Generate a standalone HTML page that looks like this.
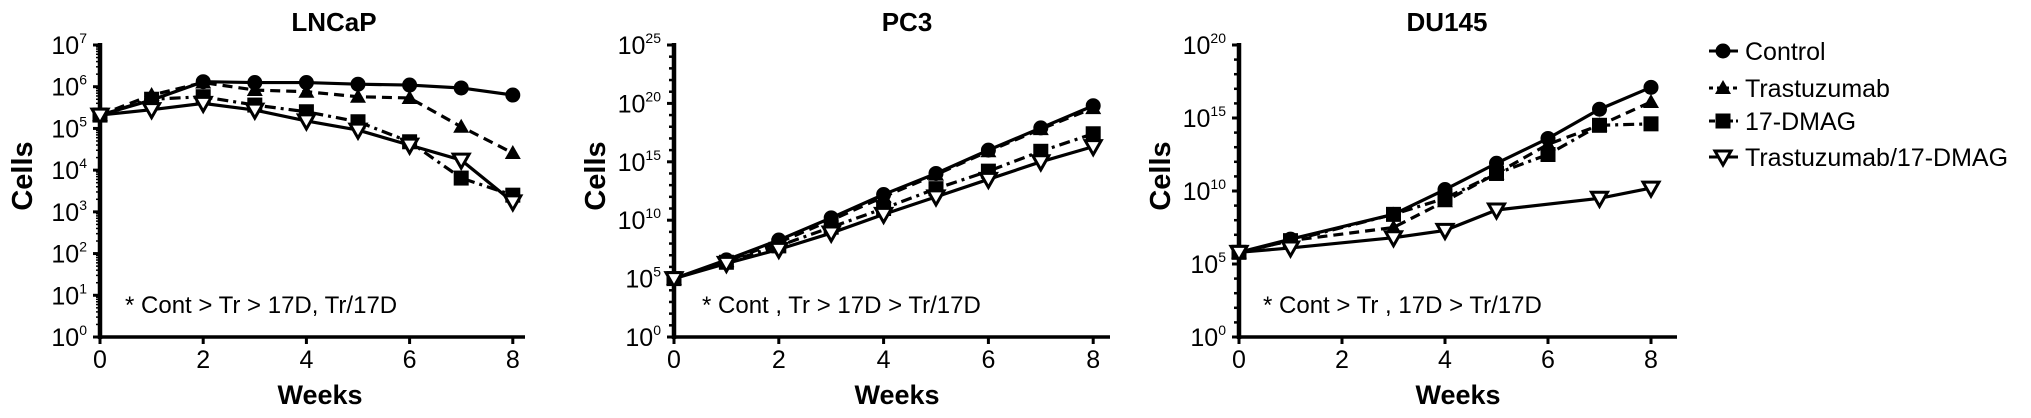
<!DOCTYPE html>
<html><head><meta charset="utf-8"><style>
html,body{margin:0;padding:0;background:#fff;}
svg{display:block;font-family:"Liberation Sans",Arial,sans-serif;}
</style></head><body>
<svg id="fig" width="2031" height="418" viewBox="0 0 2031 418"></svg>
<script>
const weeks = [0,1,2,3,4,5,6,7,8];
const seriesNames = ["Control","Trastuzumab","17-DMAG","Trastuzumab/17-DMAG"];
// log10(cells) values
const lncapControl = [5.32,5.68,6.12,6.1,6.1,6.06,6.04,5.97,5.8];
const lncapTras    = [5.32,5.8,6.1,5.92,5.88,5.76,5.73,5.04,4.41];
const lncap17D     = [5.32,5.7,5.76,5.56,5.4,5.16,4.68,3.81,3.4];
const lncapCombo   = [5.32,5.45,5.6,5.44,5.18,4.96,4.6,4.24,3.24];
const pc3Control = [5,6.6,8.3,10.2,12.2,14.0,16.0,17.9,19.8];
const pc3Tras    = [5,6.5,8.1,10.0,12.0,13.9,15.9,17.8,19.6];
const pc317D     = [5,6.4,7.8,9.4,11.0,12.7,14.2,15.9,17.4];
const pc3Combo   = [5,6.3,7.5,8.9,10.5,12.0,13.5,15.0,16.3];
const du145Control = [5.8,6.7,null,8.4,10.1,11.9,13.6,15.6,17.1];
const du145Tras    = [5.8,6.6,null,7.5,9.3,11.2,13.2,14.5,16.1];
const du14517D     = [5.8,6.6,null,8.4,9.5,11.2,12.5,14.5,14.6];
const du145Combo   = [5.8,6.1,null,6.8,7.3,8.7,null,9.5,10.2];
const xTicks = [0,2,4,6,8];

const NS="http://www.w3.org/2000/svg";
const svg=document.getElementById('fig');
function mk(tag,attrs,parent){const e=document.createElementNS(NS,tag);for(const k in attrs)e.setAttribute(k,attrs[k]);(parent||svg).appendChild(e);return e;}

const panels=[
 {key:"lncap",title:"LNCaP",x0:100,pxw:51.6,top:45,bot:337,ymax:7,step:1,minor:true,cellsX:22,titleX:334,weeksX:320,note:"* Cont > Tr > 17D, Tr/17D",noteX:125,axEnd:525,
  data:[lncapControl,lncapTras,lncap17D,lncapCombo]},
 {key:"pc3",title:"PC3",x0:674,pxw:52.4,top:45,bot:337,ymax:25,step:5,minor:false,cellsX:595,titleX:907,weeksX:897,note:"* Cont , Tr > 17D > Tr/17D",noteX:702,axEnd:1110,
  data:[pc3Control,pc3Tras,pc317D,pc3Combo]},
 {key:"du145",title:"DU145",x0:1239,pxw:51.5,top:45,bot:337,ymax:20,step:5,minor:false,cellsX:1160,titleX:1447,weeksX:1458,note:"* Cont > Tr , 17D > Tr/17D",noteX:1263,axEnd:1677,
  data:[du145Control,du145Tras,du14517D,du145Combo]}
];

function marker(g,i,x,y){
  let m;
  if(i===0){m=mk('circle',{cx:x,cy:y,r:7.5,fill:'#000'},g);}
  else if(i===1){m=mk('polygon',{points:`${x},${y-8} ${x+8},${y+6} ${x-8},${y+6}`,fill:'#000'},g);}
  else if(i===2){m=mk('rect',{x:x-7.5,y:y-7.5,width:15,height:15,fill:'#000'},g);}
  else {m=mk('polygon',{points:`${x-8},${y-6} ${x+8},${y-6} ${x},${y+8}`,fill:'#fff',stroke:'#000','stroke-width':3},g);}
  return m;
}

panels.forEach(p=>{
  const g=mk('g',{});
  
  
  const X=w=>p.x0+w*p.pxw;
  const Y=v=>p.bot-(v/p.ymax)*(p.bot-p.top);
  const t=mk('text',{x:p.titleX,y:31,'text-anchor':'middle','font-size':26,'font-weight':'bold'},g);t.textContent=p.title;
  
  
  const ya=mk('line',{x1:p.x0,y1:p.top-2,x2:p.x0,y2:p.bot+2,stroke:'#000','stroke-width':4.5},g);
  
  
  const xa=mk('line',{x1:p.x0-2,y1:p.bot,x2:p.axEnd,y2:p.bot,stroke:'#000','stroke-width':3.5},g);
  
  
  for(let d=0;d<=p.ymax;d++){
    const y=Y(d);
    if(d%p.step===0){
      mk('line',{x1:p.x0-7,y1:y,x2:p.x0,y2:y,stroke:'#000','stroke-width':3},g);
      const tx=mk('text',{x:p.x0-13,y:y+9,'text-anchor':'end','font-size':25},g);
      const a=mk('tspan',{},tx);a.textContent='10';
      const b=mk('tspan',{dy:-11,'font-size':14},tx);b.textContent=String(d);
      
      
    } else {
      mk('line',{x1:p.x0-5,y1:y,x2:p.x0,y2:y,stroke:'#000','stroke-width':2.5},g);
    }
    if(p.minor && d<p.ymax){
      for(let k=2;k<10;k++){const yy=Y(d+Math.log10(k));mk('line',{x1:p.x0-4,y1:yy,x2:p.x0,y2:yy,stroke:'#000','stroke-width':1.5},g);}
    }
  }
  xTicks.forEach(w=>{
    mk('line',{x1:X(w),y1:p.bot,x2:X(w),y2:p.bot+7,stroke:'#000','stroke-width':3},g);
    const tl=mk('text',{x:X(w),y:p.bot+31,'text-anchor':'middle','font-size':25},g);tl.textContent=w;
    
    
  });
  const wl=mk('text',{x:p.weeksX,y:404,'text-anchor':'middle','font-size':27,'font-weight':'bold'},g);wl.textContent='Weeks';
  
  
  const cl=mk('text',{x:p.cellsX+10,y:176,'text-anchor':'middle','font-size':29,'font-weight':'bold',transform:`rotate(-90 ${p.cellsX+10} 176)`},g);cl.textContent='Cells';
  
  
  const nt=mk('text',{x:p.noteX,y:313,'font-size':24},g);nt.textContent=p.note;
  
  
  p.data.forEach((vals,i)=>{
    const sg=mk('g',{},g);
    
    
    const pts=[];
    weeks.forEach((w,j)=>{if(vals[j]!=null)pts.push([X(w),Y(vals[j])]);});
    const da=i===1?'10,6':(i===2?'11,5,3,5':'none');
    mk('polyline',{points:pts.map(q=>q.join(',')).join(' '),fill:'none',stroke:'#000','stroke-width':3.2,'stroke-dasharray':da},sg);
    pts.forEach(q=>{const m=marker(sg,i,q[0],q[1]);
      
      });
  });
});

const lg=mk('g',{});


const legY=[51,88,121,157];
seriesNames.forEach((n,i)=>{
  const eg=mk('g',{},lg);
  
  
  const y=legY[i];
  const da=i===1?'4,4':(i===2?'6,3':'none');
  mk('line',{x1:1709,y1:y,x2:1738,y2:y,stroke:'#000','stroke-width':3,'stroke-dasharray':da},eg);
  marker(eg,i,1723,y);
  const tx=mk('text',{x:1745,y:y+9,'font-size':25},eg);tx.textContent=n;
});
</script>
</body></html>
